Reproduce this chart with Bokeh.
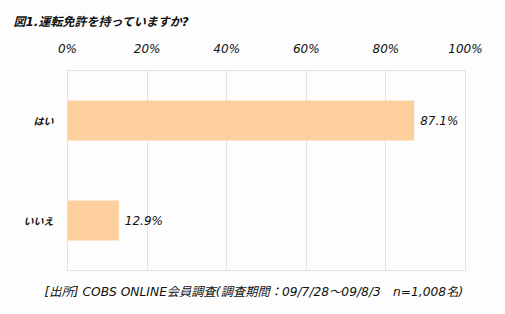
from bokeh.plotting import figure
from bokeh.models import ColumnDataSource, FactorRange, Range1d, Title, FixedTicker, CustomJSTickFormatter, LabelSet
from bokeh.core.properties import value
from bokeh.embed import file_html
from bokeh.resources import INLINE

categories = ["はい", "いいえ"]
values = [87.1, 12.9]
value_labels = ["87.1%", "12.9%"]
ticks = [0, 20, 40, 60, 80, 100]

title_text = "図1.運転免許を持っていますか?"
footer_text = "[出所] COBS ONLINE会員調査(調査期間：09/7/28～09/8/3　n=1,008名)"

FONT = "'DejaVu Sans', 'Noto Sans CJK JP'"
CJK = "'Noto Sans CJK JP'"
BAR = "#fdcf9c"
GRID = "#e3e3e3"
BG = "#fcfdfc"

FL, FR, FT, FB = 67, 465, 70, 270

src = ColumnDataSource(dict(cat=categories, val=values, lab=value_labels))

p = figure(width=505, height=314, output_backend="svg", toolbar_location=None,
           y_range=FactorRange(factors=list(reversed(categories))),
           x_range=Range1d(0, 100), x_axis_location="above",
           min_border_left=FL, min_border_right=505 - FR, min_border_top=FT,
           min_border_bottom=314 - FB)
p.background_fill_color = BG
p.border_fill_color = BG
p.outline_line_color = GRID
p.outline_line_width = 1

p.title = Title(text=title_text, align="left", offset=13 - FL, text_font=FONT,
                text_font_style="bold italic", text_font_size="12px", text_color="#111111",
                standoff=19)

p.add_layout(Title(text=footer_text, align="left", offset=44 - FL, text_font=FONT,
                   text_font_style="italic", text_font_size="12.25px", text_color="#111111",
                   standoff=28, vertical_align="top"), "below")

p.hbar(y="cat", right="val", left=0, height=0.4, source=src, color=BAR, line_color=None)

p.add_layout(LabelSet(x="val", y="cat", text="lab", source=src, x_offset=6, y_offset=0,
                      text_baseline="middle", text_font=value(FONT), text_font_size="12px",
                      text_font_style="italic", text_color="#111111"))

p.xgrid.ticker = FixedTicker(ticks=ticks)
p.xgrid.grid_line_color = GRID
p.ygrid.grid_line_color = None

xa = p.xaxis[0]
xa.ticker = FixedTicker(ticks=ticks)
xa.formatter = CustomJSTickFormatter(code="return tick + '%';")
xa.axis_line_color = None
xa.major_tick_line_color = None
xa.minor_tick_line_color = None
xa.major_label_text_font = FONT
xa.major_label_text_font_style = "italic"
xa.major_label_text_font_size = "12px"
xa.major_label_text_color = "#111111"
xa.major_label_standoff = 9

ya = p.yaxis[0]
ya.axis_line_color = None
ya.major_tick_line_color = None
ya.major_label_text_font = CJK
ya.major_label_text_font_style = "bold italic"
ya.major_label_text_font_size = "10px"
ya.major_label_text_color = "#111111"
ya.major_label_standoff = 8

open("out.html", "w").write(file_html(p, INLINE))
